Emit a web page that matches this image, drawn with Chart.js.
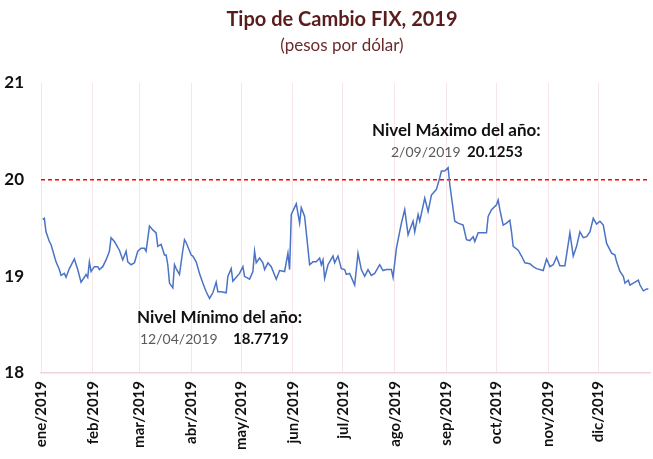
<!DOCTYPE html>
<html>
<head>
<meta charset="utf-8">
<script src="https://cdn.jsdelivr.net/npm/chart.js@4.4.1/dist/chart.umd.min.js"></script>
<style>
  html, body { margin: 0; padding: 0; background: #fff; }
  #wrap { width: 653px; height: 459px; }
</style>
</head>
<body>
<div id="wrap"><canvas id="fix-chart"></canvas></div>
<script>
/* Tipo de Cambio FIX 2019 */
var FECHAS = [
  '01-02','01-03','01-04','01-06','01-07','01-08','01-10','01-12','01-13','01-15','01-16','01-18',
  '01-21','01-23','01-25','01-27','01-28','01-29','01-30','01-31','02-02','02-04','02-05','02-07',
  '02-09','02-11','02-12','02-14','02-17','02-19','02-21','02-22','02-24','02-26','02-28','03-02',
  '03-04','03-05','03-07','03-09','03-11','03-12','03-14','03-16','03-17','03-18','03-19','03-21',
  '03-22','03-23','03-25','03-27','03-28','03-29','04-01','04-02','04-04','04-06','04-08','04-10',
  '04-12','04-14','04-16','04-17','04-19','04-22','04-23','04-25','04-26','04-28','04-30','05-02',
  '05-03','05-06','05-08','05-09','05-10','05-12','05-14','05-15','05-17','05-19','05-22','05-24',
  '05-27','05-29','05-30','05-31','06-03','06-05','06-06','06-08','06-11','06-13','06-15','06-17',
  '06-18','06-19','06-20','06-22','06-25','06-26','06-28','06-30','07-02','07-03','07-05','07-08',
  '07-10','07-12','07-14','07-16','07-18','07-20','07-23','07-25','07-27','07-30','07-31','08-02',
  '08-05','08-07','08-09','08-10','08-12','08-13','08-15','08-16','08-19','08-21','08-23','08-26',
  '08-28','08-29','08-31','09-02','09-03','09-06','09-08','09-11','09-13','09-15','09-17','09-18',
  '09-20','09-23','09-25','09-26','09-28','10-01','10-02','10-03','10-05','10-07','10-09','10-10',
  '10-11','10-14','10-16','10-18','10-21','10-23','10-25','10-29','10-31','11-02','11-04','11-06',
  '11-08','11-11','11-14','11-16','11-18','11-20','11-22','11-24','11-26','11-28','11-30','12-02',
  '12-04','12-06','12-09','12-11','12-12','12-14','12-16','12-17','12-19','12-20','12-23','12-25',
  '12-26','12-28','12-30','12-31'
];
var FIX = [
  19.59,19.60,19.46,19.36,19.33,19.27,19.15,19.07,19.01,19.03,18.99,19.08,
  19.18,19.07,18.94,18.99,19.02,18.99,19.15,19.05,19.10,19.10,19.07,19.10,
  19.17,19.26,19.40,19.36,19.27,19.17,19.26,19.15,19.12,19.14,19.26,19.29,
  19.29,19.26,19.52,19.48,19.45,19.31,19.33,19.22,19.22,19.12,18.93,18.88,
  19.12,19.08,19.02,19.27,19.38,19.35,19.22,19.21,19.15,19.03,18.93,18.84,
  18.7719,18.83,18.94,18.84,18.84,18.83,19.00,19.08,18.95,18.99,19.03,19.10,
  19.00,18.97,19.05,19.26,19.14,19.19,19.14,19.07,19.14,19.10,18.97,19.06,
  19.05,19.24,19.07,19.64,19.75,19.55,19.71,19.62,19.12,19.15,19.15,19.19,
  19.12,19.17,18.98,19.12,19.21,19.14,19.21,19.08,19.07,19.02,19.03,18.91,
  19.24,19.07,19.00,19.07,19.01,19.03,19.12,19.06,19.07,19.07,18.99,19.29,
  19.55,19.69,19.43,19.48,19.57,19.46,19.64,19.57,19.81,19.67,19.84,19.90,
  20.02,20.09,20.09,20.1253,19.95,19.57,19.55,19.53,19.38,19.37,19.41,19.36,
  19.45,19.45,19.45,19.62,19.69,19.74,19.79,19.69,19.53,19.55,19.58,19.46,
  19.31,19.27,19.21,19.14,19.13,19.10,19.08,19.06,19.18,19.10,19.12,19.20,
  19.11,19.11,19.45,19.21,19.31,19.46,19.40,19.41,19.46,19.60,19.54,19.57,
  19.53,19.34,19.24,19.22,19.15,19.05,19.00,18.93,18.96,18.91,18.94,18.96,
  18.91,18.85,18.87,18.87
];
var INICIO_MES = ['01-01','02-01','03-01','04-01','05-01','06-01','07-01','08-01','09-01','10-01','11-01','12-01'];
var MESES = ['ene/2019','feb/2019','mar/2019','abr/2019','may/2019','jun/2019',
             'jul/2019','ago/2019','sep/2019','oct/2019','nov/2019','dic/2019'];
var NIVEL_REF = 20;

// dia del año (0 = 1 de enero)
function dia(s) {
  var p = s.split('-');
  return (Date.UTC(2019, +p[0] - 1, +p[1]) - Date.UTC(2019, 0, 1)) / 86400000;
}

var puntos = FECHAS.map(function (f, i) { return { x: dia(f), y: FIX[i] }; });
var FUENTE = 'Lato, "Open Sans", sans-serif';

var textos = {
  id: 'textos',
  afterDraw: function (chart) {
    var ctx = chart.ctx;
    ctx.save();
    ctx.textBaseline = 'alphabetic';

    ctx.textAlign = 'center';
    ctx.fillStyle = '#5a1d1d';
    ctx.font = 'bold 20px ' + FUENTE;
    ctx.fillText('Tipo de Cambio FIX, 2019', 342, 26);
    ctx.fillStyle = '#6b2a2a';
    ctx.font = '17px ' + FUENTE;
    ctx.fillText('(pesos por dólar)', 342, 51);

    ctx.textAlign = 'left';
    ctx.fillStyle = '#111';
    ctx.font = 'bold 17px ' + FUENTE;
    ctx.fillText('Nivel Máximo del año:', 372, 136);
    ctx.fillText('Nivel Mínimo del año:', 137, 323);

    ctx.fillStyle = '#5a5a5a';
    ctx.font = '14px ' + FUENTE;
    ctx.fillText('2/09/2019', 391, 157);
    ctx.fillText('12/04/2019', 140, 344);

    ctx.fillStyle = '#111';
    ctx.font = 'bold 15px ' + FUENTE;
    ctx.fillText('20.1253', 467, 157);
    ctx.fillText('18.7719', 233, 344);
    ctx.restore();
  }
};

new Chart(document.getElementById('fix-chart'), {
  type: 'line',
  data: {
    datasets: [{
      label: 'FIX',
      data: puntos,
      borderColor: '#4a73c5',
      borderWidth: 1.5,
      pointRadius: 0,
      tension: 0
    }, {
      label: 'Referencia',
      data: [{ x: 0, y: NIVEL_REF }, { x: 365, y: NIVEL_REF }],
      borderColor: '#ff0000',
      borderWidth: 1.5,
      borderDash: [4, 3],
      pointRadius: 0
    }]
  },
  options: {
    responsive: true,
    maintainAspectRatio: false,
    animation: false,
    layout: { padding: { top: 83, right: 3, left: 0, bottom: 0 } },
    plugins: {
      legend: { display: false },
      tooltip: { enabled: false }
    },
    scales: {
      x: {
        type: 'linear',
        min: 0,
        max: 365,
        afterBuildTicks: function (scale) {
          scale.ticks = INICIO_MES.map(function (m) { return { value: dia(m) }; });
        },
        afterFit: function (scale) { scale.height = 86; },
        grid: { color: '#f7e6e9', drawTicks: false },
        border: { color: '#f0d3d8', width: 1.5 },
        ticks: {
          autoSkip: false,
          minRotation: 90,
          maxRotation: 90,
          padding: 8,
          color: '#111',
          font: { family: FUENTE, size: 15, weight: 'bold' },
          callback: function (v, i) { return MESES[i]; }
        }
      },
      y: {
        min: 18,
        max: 21,
        afterFit: function (scale) { scale.width = 41; },
        grid: { display: false },
        border: { display: false },
        ticks: {
          stepSize: 1,
          padding: 9,
          color: '#111',
          font: { family: FUENTE, size: 17, weight: 'bold' }
        }
      }
    }
  },
  plugins: [textos]
});
</script>
</body>
</html>
